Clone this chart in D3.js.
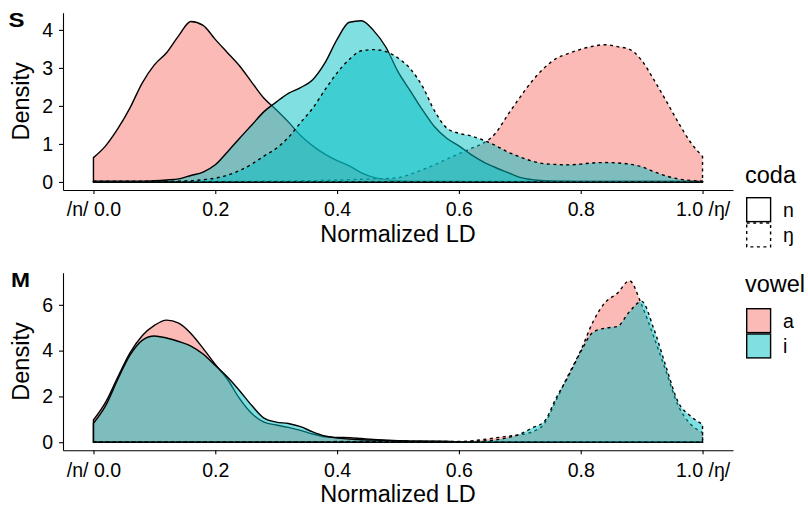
<!DOCTYPE html>
<html>
<head>
<meta charset="utf-8">
<script src="https://cdn.jsdelivr.net/npm/d3@7"></script>
<style>
  body { margin: 0; background: #fff; }
  svg text { font-family: "Liberation Sans", Arial, sans-serif; fill: #000; }
</style>
</head>
<body>
<div class="chart"></div>
<script>
// normalized LD grid the densities were read at
var ldGrid = [0.00,0.02,0.04,0.06,0.08,0.10,0.12,0.14,0.16,0.18,
              0.20,0.22,0.24,0.26,0.28,0.30,0.32,0.34,0.36,0.38,
              0.40,0.42,0.44,0.46,0.48,0.50,0.52,0.54,0.56,0.58,
              0.60,0.62,0.64,0.66,0.68,0.70,0.72,0.74,0.76,0.78,
              0.80,0.82,0.84,0.86,0.88,0.90,0.92,0.94,0.96,0.98,1.00];

// panel S
var sA_n  = [0.64,0.95,1.40,1.95,2.60,3.08,3.40,3.85,4.22,4.12,
             3.75,3.40,3.05,2.62,2.20,1.90,1.58,1.22,0.95,0.73,
             0.56,0.42,0.24,0.12,0.06,0.03,0.02,0.02,0.02,0.02,
             0.02,0.01,0.01,0.01,0.01,0.01,0.01,0.01,0.01,0.01,
             0.01,0.01,0.01,0.01,0.01,0.01,0.01,0.01,0.01,0.01,0.00];
var sA_ng = [0.01,0.01,0.01,0.01,0.01,0.01,0.01,0.01,0.01,0.01,
             0.01,0.01,0.01,0.01,0.02,0.02,0.02,0.03,0.03,0.04,
             0.05,0.06,0.07,0.08,0.09,0.11,0.20,0.32,0.45,0.60,
             0.74,0.88,1.02,1.28,1.76,2.22,2.65,3.00,3.25,3.38,
             3.49,3.57,3.61,3.56,3.49,3.20,2.69,2.14,1.57,1.05,0.67];
var sI_n  = [0.02,0.02,0.02,0.02,0.02,0.03,0.05,0.08,0.17,0.26,
             0.45,0.79,1.15,1.50,1.85,2.10,2.33,2.48,2.69,3.13,
             3.75,4.20,4.24,3.98,3.55,2.90,2.40,1.90,1.45,1.15,
             0.95,0.72,0.53,0.38,0.25,0.12,0.06,0.03,0.02,0.02,
             0.01,0.01,0.01,0.01,0.01,0.01,0.01,0.01,0.01,0.01,0.01];
var sI_ng = [0.01,0.01,0.01,0.01,0.01,0.01,0.01,0.02,0.03,0.06,
             0.10,0.18,0.30,0.47,0.68,0.88,1.17,1.56,1.94,2.42,
             2.87,3.22,3.45,3.48,3.43,3.26,2.98,2.52,1.87,1.42,
             1.28,1.21,1.10,0.96,0.79,0.66,0.55,0.48,0.46,0.45,
             0.47,0.50,0.51,0.50,0.47,0.40,0.27,0.16,0.08,0.04,0.02];

// panel M
var mA_n  = [0.97,1.75,2.85,3.90,4.65,5.10,5.33,5.20,4.75,4.10,
             3.40,2.75,1.90,1.25,0.88,0.75,0.65,0.52,0.36,0.24,
             0.21,0.20,0.16,0.12,0.09,0.07,0.05,0.05,0.04,0.03,
             0.02,0.01,0.01,0.01,0.01,0.01,0.01,0.01,0.01,0.01,
             0.01,0.01,0.01,0.01,0.01,0.01,0.01,0.01,0.01,0.01,0.00];
var mA_ng = [0.01,0.01,0.01,0.01,0.01,0.01,0.01,0.01,0.01,0.01,
             0.01,0.01,0.01,0.01,0.01,0.01,0.01,0.01,0.01,0.02,
             0.03,0.03,0.03,0.03,0.03,0.03,0.03,0.03,0.03,0.03,
             0.03,0.06,0.12,0.19,0.26,0.33,0.45,0.80,1.85,2.95,
             4.00,5.25,6.10,6.50,7.05,6.00,4.60,3.10,1.60,0.80,0.42];
var mI_n  = [0.83,1.60,2.75,3.80,4.45,4.64,4.55,4.40,4.20,3.85,
             3.35,2.85,2.25,1.60,1.05,0.88,0.82,0.68,0.45,0.27,
             0.18,0.14,0.11,0.09,0.08,0.06,0.05,0.04,0.03,0.03,
             0.02,0.01,0.01,0.01,0.01,0.01,0.01,0.01,0.01,0.01,
             0.01,0.01,0.01,0.01,0.01,0.01,0.01,0.01,0.01,0.01,0.01];
var mI_ng = [0.01,0.01,0.01,0.01,0.01,0.01,0.01,0.01,0.01,0.01,
             0.01,0.01,0.01,0.01,0.01,0.01,0.01,0.01,0.01,0.01,
             0.02,0.02,0.02,0.02,0.02,0.02,0.02,0.02,0.02,0.02,
             0.02,0.03,0.06,0.10,0.20,0.35,0.62,0.90,1.95,2.90,
             3.95,4.80,4.98,5.05,5.70,6.15,4.95,3.30,1.75,1.15,0.78];

var xTicks = [0, 0.2, 0.4, 0.6, 0.8, 1.0];
var xTickLabels = ["/n/ 0.0", "0.2", "0.4", "0.6", "0.8", "1.0 /\u014b/"];
var yTicksS = [0, 1, 2, 3, 4];
var yTicksM = [0, 2, 4, 6];
var vowels = ["a", "i"];
var codas = ["n", "\u014b"];

var vowelColor = {"a": "#F8766D", "i": "#00BFC4"};
var codaDash = {"n": null, "\u014b": "3,3.5"};

var w = 808, h = 506;
var left = 63, right = 733;

var svg = d3.select(".chart").append("svg")
            .attr("width", w)
            .attr("height", h);

function drawPanel(tag, top, bottom, series, yTicks) {
    var g = svg.append("g");
    var ymax = d3.max(series, function(s) { return d3.max(s.values); });
    var xScale = d3.scaleLinear().domain([-0.05, 1.05]).range([left, right]);
    var yScale = d3.scaleLinear().domain([-0.05 * ymax, ymax * 1.05]).range([bottom, top]);

    var area = d3.area()
        .x(function(d, i) { return xScale(ldGrid[i]); })
        .y0(yScale(0))
        .y1(function(d) { return yScale(d); })
        .curve(d3.curveMonotoneX);

    // fill + outline per group, same order ggplot draws them
    series.forEach(function(s) {
        g.append("path")
         .attr("d", area(s.values))
         .attr("fill", vowelColor[s.vowel])
         .attr("fill-opacity", 0.5)
         .attr("stroke", "#000")
         .attr("stroke-width", 1.4)
         .attr("stroke-linejoin", "round")
         .attr("stroke-dasharray", codaDash[s.coda]);
    });

    var xAxis = d3.axisBottom(xScale).tickValues(xTicks)
        .tickFormat(function(d, i) { return xTickLabels[i]; })
        .tickSize(4).tickSizeOuter(0).tickPadding(8.5);
    var yAxis = d3.axisLeft(yScale).tickValues(yTicks)
        .tickFormat(d3.format("d"))
        .tickSize(4).tickSizeOuter(0).tickPadding(6);

    g.append("g")
     .attr("transform", "translate(0," + bottom + ")")
     .call(xAxis)
     .call(function(a) {
        a.selectAll("text").attr("font-size", 19.5).attr("font-family", null).attr("fill", "#000");
        a.selectAll("line").attr("stroke", "#000").attr("stroke-width", 1.1);
        a.select(".domain").attr("stroke", "#000").attr("stroke-width", 1.1);
     });

    g.append("g")
     .attr("transform", "translate(" + left + ",0)")
     .call(yAxis)
     .call(function(a) {
        a.selectAll("text").attr("font-size", 19.5).attr("font-family", null).attr("fill", "#000");
        a.selectAll("line").attr("stroke", "#000").attr("stroke-width", 1.1);
        a.select(".domain").attr("stroke", "#000").attr("stroke-width", 1.1);
     });

    g.append("text")
     .attr("x", (left + right) / 2)
     .attr("y", bottom + 52)
     .attr("text-anchor", "middle")
     .attr("font-size", 23.5)
     .text("Normalized LD");

    g.append("text")
     .attr("transform", "translate(28.5," + ((top + bottom) / 2) + ") rotate(-90)")
     .attr("text-anchor", "middle")
     .attr("font-size", 23.5)
     .text("Density");

    g.append("text")
     .attr("x", tag == "S" ? 8.5 : 11)
     .attr("y", top + 13.8)
     .attr("font-size", 21)
     .attr("font-weight", "bold")
     .attr("textLength", tag == "S" ? 16 : 19)
     .attr("lengthAdjust", "spacingAndGlyphs")
     .text(tag);
}

drawPanel("S", 12.7, 190, [
    {vowel: "a", coda: "n", values: sA_n},
    {vowel: "a", coda: "\u014b", values: sA_ng},
    {vowel: "i", coda: "n", values: sI_n},
    {vowel: "i", coda: "\u014b", values: sI_ng}
], yTicksS);

drawPanel("M", 272.7, 450.3, [
    {vowel: "a", coda: "n", values: mA_n},
    {vowel: "a", coda: "\u014b", values: mA_ng},
    {vowel: "i", coda: "n", values: mI_n},
    {vowel: "i", coda: "\u014b", values: mI_ng}
], yTicksM);

// legends
var key = 25.3;
var lg = svg.append("g").attr("transform", "translate(746,0)");

lg.append("text").attr("x", -1).attr("y", 183).attr("font-size", 23.5).text("coda");
var codaKeys = lg.selectAll(".coda-key").data(codas).enter().append("g")
    .attr("class", "coda-key")
    .attr("transform", function(d, i) { return "translate(0," + (197 + i * key) + ")"; });
codaKeys.append("rect")
    .attr("x", 0.7).attr("y", 0.7).attr("width", key - 1.4).attr("height", key - 1.4)
    .attr("fill", "#fff").attr("stroke", "#000").attr("stroke-width", 1.4)
    .attr("stroke-dasharray", function(d) { return codaDash[d]; });
codaKeys.append("text")
    .attr("x", 37).attr("y", key / 2 + 7)
    .attr("font-size", 19.5)
    .text(function(d) { return d; });

lg.append("text").attr("x", -1).attr("y", 292).attr("font-size", 23.5).text("vowel");
var vowelKeys = lg.selectAll(".vowel-key").data(vowels).enter().append("g")
    .attr("class", "vowel-key")
    .attr("transform", function(d, i) { return "translate(0," + (308 + i * key) + ")"; });
vowelKeys.append("rect")
    .attr("x", 0.7).attr("y", 0.7).attr("width", key - 1.4).attr("height", key - 1.4)
    .attr("fill", function(d) { return vowelColor[d]; }).attr("fill-opacity", 0.5)
    .attr("stroke", "#000").attr("stroke-width", 1.4);
vowelKeys.append("text")
    .attr("x", 37).attr("y", key / 2 + 7)
    .attr("font-size", 19.5)
    .text(function(d) { return d; });
</script>
</body>
</html>
